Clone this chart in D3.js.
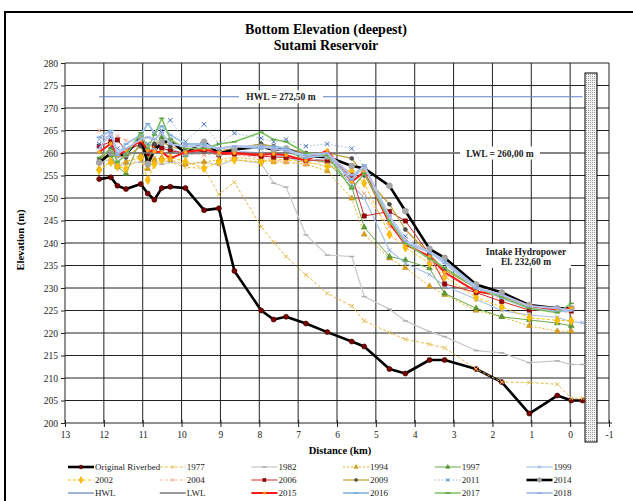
<!DOCTYPE html>
<html>
<head>
<meta charset="utf-8">
<script src="https://cdn.jsdelivr.net/npm/d3@7"></script>
<style>
  body { margin: 0; background: #fff; }
  text { font-family: "Liberation Serif", "Times New Roman", serif; }
</style>
</head>
<body>
<script>
// cross-section stations (km from dam)
var stations = [12.12, 11.82, 11.65, 11.43, 11.05, 10.87, 10.70, 10.51, 10.29, 9.90,
  9.42, 9.04, 8.64, 7.95, 7.63, 7.31, 6.80, 6.25, 5.62, 5.30,
  4.65, 4.24, 3.62, 3.23, 2.42, 1.76, 1.05, 0.33, -0.03, -0.32];

var riverbed = [254.2, 254.6, 252.7, 252.0, 253.1, 251.0, 249.6, 252.2, 252.5, 252.2,
  247.3, 247.7, 233.8, 225.0, 223.0, 223.6, 222.1, 220.2, 218.1, 217.0,
  212.0, 211.0, 214.0, 214.0, 212.0, 209.1, 202.1, 206.1, 205.0, 205.0];
var y1977 = [258.0, 259.0, 257.0, 258.0, 259.0, 258.0, 259.0, 258.4, 258.0, 256.8,
  256.6, 250.8, 253.5, 243.6, 240.2, 237.0, 232.9, 228.8, 226.0, 222.7,
  220.1, 218.6, 217.5, 216.7, 212.0, 209.1, 209.0, 208.6, 205.5, 205.5];
var y1982 = [258.0, 258.5, 257.0, 257.5, 258.0, 257.0, 258.0, 257.5, 258.0, 257.5,
  258.0, 257.3, 258.5, 257.7, 253.3, 252.4, 241.8, 237.3, 237.0, 228.1,
  225.3, 222.7, 220.3, 219.2, 216.1, 215.6, 213.4, 213.8, 213.0, 213.0];
var y1994 = [256.5, 258.0, 257.5, 258.0, 259.5, 256.5, 258.5, 259.0, 258.5, 257.5,
  258.0, 258.5, 259.0, 258.5, 258.0, 258.0, 257.5, 256.0, 249.9, 241.9,
  236.6, 234.5, 230.4, 228.5, 225.0, 223.6, 221.6, 220.4, 220.4, null];
var y1997 = [258.0, 259.5, 257.0, 255.4, 263.0, 258.5, 262.0, 263.5, 261.0, 259.5,
  261.5, 260.0, 261.0, 262.0, 261.0, 260.5, 258.5, 258.0, 252.5, 243.5,
  237.0, 236.2, 234.4, 228.8, 225.5, 223.6, 222.9, 222.2, 221.6, null];
var y1999 = [263.0, 264.0, 258.0, 260.0, 263.0, 261.5, 262.0, 261.5, 261.0, 259.5,
  260.0, 260.0, 260.5, 260.0, 259.5, 259.0, 258.0, 259.0, 253.0, 250.0,
  238.4, 235.5, 233.0, 230.5, 227.5, 225.0, 224.0, 223.5, 222.5, 222.3];
var y2002 = [256.2, 258.0, 257.0, 256.5, 259.0, 254.0, 257.5, 258.5, 259.0, 258.1,
  256.6, 258.0, 258.5, 258.0, 258.5, 258.5, 258.0, 257.0, 256.0, 253.3,
  241.9, 239.0, 235.5, 232.5, 227.9, 225.8, 223.4, 222.8, 222.7, null];
var y2004 = [265.0, 262.0, 263.8, 262.8, 262.0, 261.0, 262.0, 261.0, 260.5, 260.0,
  259.5, 259.8, 259.5, 259.0, 258.5, 258.0, 257.5, 258.0, 254.0, 251.0,
  243.6, 241.0, 236.0, 233.0, 229.5, 227.5, 225.5, 224.8, 224.5, null];
var y2006 = [261.5, 262.5, 262.9, 260.5, 262.0, 259.8, 261.5, 261.1, 260.5, 260.0,
  260.4, 259.6, 259.8, 259.3, 259.1, 259.0, 258.4, 258.4, 255.0, 246.0,
  247.0, 244.9, 237.5, 230.9, 229.0, 227.0, 225.1, 225.1, 224.9, null];
var y2009 = [258.5, 261.0, 259.5, 259.0, 261.5, 258.0, 262.0, 262.5, 261.5, 260.5,
  261.0, 260.5, 261.0, 262.0, 261.5, 261.0, 260.0, 260.0, 258.8, 255.0,
  248.6, 243.0, 237.5, 234.0, 230.0, 228.5, 226.0, 225.3, 225.3, null];
var y2011 = [262.0, 263.5, 261.0, 260.5, 263.5, 262.0, 264.5, 265.0, 267.3, 262.5,
  266.4, 262.0, 264.4, 263.3, 262.5, 263.0, 261.5, 262.0, 261.0, 257.0,
  246.0, 241.5, 237.5, 234.5, 229.8, 228.0, 226.0, 225.0, 225.5, null];
var y2014 = [257.9, 260.0, 259.5, 259.7, 263.6, 257.6, 260.5, 262.3, 262.8, 260.0,
  262.5, 259.9, 260.8, 261.4, 260.7, 261.0, 259.2, 259.2, 257.1, 256.6,
  252.7, 247.1, 238.7, 236.7, 230.8, 229.0, 226.2, 225.5, 225.5, null];
var hwl = [272.5, null, null, null, null, null, null, null, null, null,
  null, null, null, null, null, null, null, null, null, null,
  null, null, null, null, null, null, null, null, null, 272.5];
var lwl = [260.0, null, null, null, null, null, null, null, null, null,
  null, null, null, null, null, null, null, null, null, null,
  null, null, null, null, null, null, null, null, null, 260.0];
var y2015 = [260.2, 262.1, 259.5, 260.6, 262.8, 260.6, 260.3, 260.2, 258.8, 260.2,
  260.8, 260.0, 260.0, 259.6, 259.8, 259.5, 258.3, 260.6, 253.6, 255.8,
  244.4, 239.7, 237.0, 233.5, 229.2, 228.4, 226.0, 225.1, 225.5, null];
var y2016 = [263.5, 265.0, 259.5, 262.0, 264.0, 266.5, 264.5, 266.0, 264.0, 262.0,
  262.0, 261.0, 261.5, 261.0, 261.5, 261.0, 259.0, 259.5, 254.0, 257.3,
  245.1, 240.0, 238.0, 236.0, 230.3, 227.8, 225.5, 224.8, 225.0, null];
var y2017 = [259.0, 261.0, 258.0, 259.5, 264.5, 261.0, 264.0, 267.7, 263.0, 261.0,
  261.0, 262.0, 262.5, 264.6, 263.0, 262.5, 260.0, 259.5, 252.0, 255.5,
  245.0, 240.0, 236.5, 234.5, 230.0, 228.0, 225.5, 224.5, 226.6, null];
var y2018 = [261.0, 264.5, 260.0, 261.0, 263.0, 263.5, 263.0, 264.5, 262.0, 261.5,
  261.5, 261.0, 261.5, 261.5, 261.0, 260.5, 259.5, 260.0, 255.0, 257.0,
  246.0, 240.5, 238.0, 235.5, 230.0, 228.5, 226.0, 225.5, 225.0, null];

var seriesNames = ["Original Riverbed", "1977", "1982", "1994", "1997", "1999",
  "2002", "2004", "2006", "2009", "2011", "2014",
  "HWL", "LWL", "2015", "2016", "2017", "2018"];
var seriesValues = [riverbed, y1977, y1982, y1994, y1997, y1999,
  y2002, y2004, y2006, y2009, y2011, y2014,
  hwl, lwl, y2015, y2016, y2017, y2018];

var xTicks = d3.range(13, -2, -1);
var yTicks = d3.range(200, 281, 5);

// styles, same order as seriesNames
var styles = [
  { color: "#000000", width: 2.6, dash: null, marker: "circle", mfill: "#7a0000", mstroke: "#3a0000", msize: 20 },
  { color: "#e9b949", width: 1, dash: "3,2", marker: "cross", mfill: "#e9b949", mstroke: "#e9b949", msize: 12 },
  { color: "#c8c8c8", width: 1.2, dash: null, marker: "dash", mfill: "#b0b0b0", mstroke: "#b0b0b0", msize: 10 },
  { color: "#e8b020", width: 1, dash: "2,2", marker: "triangle", mfill: "#d9a21c", mstroke: "#c08a10", msize: 14 },
  { color: "#6aaa48", width: 1, dash: null, marker: "triangle", mfill: "#5a9a38", mstroke: "#4a8a28", msize: 14 },
  { color: "#a9c1e8", width: 1.2, dash: null, marker: "cross", mfill: "#8eaee0", mstroke: "#8eaee0", msize: 12 },
  { color: "#ffc000", width: 1, dash: "3,2", marker: "diamond", mfill: "#ffc000", mstroke: "#f0a800", msize: 24 },
  { color: "#f4b89a", width: 1, dash: "3,2", marker: "cross", mfill: "#f0a080", mstroke: "#f0a080", msize: 12 },
  { color: "#d02828", width: 1, dash: null, marker: "square", mfill: "#a00000", mstroke: "#700000", msize: 18 },
  { color: "#c09a30", width: 1.2, dash: null, marker: "circle", mfill: "#505050", mstroke: "#404040", msize: 12 },
  { color: "#9db7e4", width: 1, dash: "1.5,2", marker: "cross", mfill: "#4472c4", mstroke: "#4472c4", msize: 14 },
  { color: "#000000", width: 2.6, dash: null, marker: "circle", mfill: "#a6a6a6", mstroke: "#a0a0a0", msize: 28 },
  { color: "#6282c0", width: 1.2, dash: null, marker: null },
  { color: "#7f7f7f", width: 1.6, dash: null, marker: null },
  { color: "#ff1a1a", width: 2, dash: null, marker: "circle", mfill: "#ffb020", mstroke: "#ff9000", msize: 9 },
  { color: "#9dc3e6", width: 2, dash: null, marker: "dash", mfill: "#7aa8d8", mstroke: "#7aa8d8", msize: 10 },
  { color: "#7cc060", width: 1.5, dash: null, marker: "dash", mfill: "#5aa040", mstroke: "#5aa040", msize: 10 },
  { color: "#b4c4ec", width: 2, dash: null, marker: "dash", mfill: "#9aa8dc", mstroke: "#9aa8dc", msize: 10 }
];

var width = 633, height = 501;

var svg = d3.select("body").append("svg")
  .attr("width", width)
  .attr("height", height);

svg.append("rect").attr("width", width).attr("height", height).attr("fill", "#fff");

var x = d3.scaleLinear().domain([13, -1]).range([65, 609]);
var y = d3.scaleLinear().domain([200, 280]).range([423, 63]);

// outer frame (only top and left edges are inside the picture)
svg.append("path")
  .attr("d", "M5,501 L5,12 L633,12")
  .attr("fill", "none")
  .attr("stroke", "#000")
  .attr("stroke-width", 2);

// titles
svg.append("text").attr("x", 326).attr("y", 34)
  .attr("text-anchor", "middle").attr("font-weight", "bold").attr("font-size", 14)
  .text("Bottom Elevation (deepest)");
svg.append("text").attr("x", 326).attr("y", 50)
  .attr("text-anchor", "middle").attr("font-weight", "bold").attr("font-size", 14)
  .text("Sutami Reservoir");

// gridlines
var grid = svg.append("g").attr("class", "grid");
grid.selectAll("line.v")
  .data(xTicks.slice(1))
  .enter().append("line")
  .attr("class", "v")
  .attr("x1", function(d) { return x(d); })
  .attr("x2", function(d) { return x(d); })
  .attr("y1", y(280)).attr("y2", y(200))
  .attr("stroke", "#222").attr("stroke-width", 1);
grid.selectAll("line.h")
  .data(yTicks.slice(1))
  .enter().append("line")
  .attr("class", "h")
  .attr("y1", function(d) { return y(d); })
  .attr("y2", function(d) { return y(d); })
  .attr("x1", x(13)).attr("x2", x(-1))
  .attr("stroke", "#222").attr("stroke-width", 1);

// axes
var xAxis = d3.axisBottom(x).tickValues(xTicks).tickSize(4).tickPadding(4)
  .tickFormat(function(d) { return d; });
var gx = svg.append("g").attr("transform", "translate(0," + y(200) + ")").call(xAxis);
gx.select(".domain").attr("d", "M" + x(13) + ",0H" + (x(-1) + 3)).attr("stroke", "#222");
gx.selectAll(".tick line").attr("y1", -3).attr("stroke", "#222");
gx.selectAll(".tick text")
  .attr("font-family", "Liberation Serif, serif").attr("font-size", 9.5).attr("fill", "#222");

var yAxis = d3.axisLeft(y).tickValues(yTicks).tickSize(4).tickPadding(3);
var gy = svg.append("g").attr("transform", "translate(" + x(13) + ",0)").call(yAxis);
gy.select(".domain").attr("d", "M0," + y(280) + "V" + y(200)).attr("stroke", "#222");
gy.selectAll(".tick line").attr("stroke", "#222");
gy.selectAll(".tick text")
  .attr("font-family", "Liberation Serif, serif").attr("font-size", 9.5).attr("fill", "#222");

svg.append("text")
  .attr("transform", "translate(24,240) rotate(-90)")
  .attr("text-anchor", "middle").attr("font-weight", "bold").attr("font-size", 10.5)
  .text("Elevation (m)");
svg.append("text")
  .attr("x", 340).attr("y", 454)
  .attr("text-anchor", "middle").attr("font-weight", "bold").attr("font-size", 10.5)
  .text("Distance (km)");

// dam body, dotted fill
var defs = svg.append("defs");
var pat = defs.append("pattern").attr("id", "dots")
  .attr("width", 2).attr("height", 2).attr("patternUnits", "userSpaceOnUse");
pat.append("rect").attr("width", 2).attr("height", 2).attr("fill", "#f4f4f4");
pat.append("rect").attr("width", 1).attr("height", 1).attr("fill", "#9a9a9a");

svg.append("rect")
  .attr("x", 585).attr("y", 73).attr("width", 12).attr("height", 369)
  .attr("fill", "url(#dots)").attr("stroke", "#000").attr("stroke-width", 1);

// series
function symbolFor(type) {
  if (type === "circle") return d3.symbolCircle;
  if (type === "square") return d3.symbolSquare;
  if (type === "triangle") return d3.symbolTriangle;
  if (type === "diamond") return d3.symbolDiamond;
  if (type === "cross") return d3.symbolX;
  return null;
}

function drawMarker(g, st, px, py, k) {
  if (!st.marker) return;
  k = k || 1;
  if (st.marker === "dash") {
    g.append("line")
      .attr("x1", px - 2.5).attr("x2", px + 2.5).attr("y1", py).attr("y2", py)
      .attr("stroke", st.mstroke).attr("stroke-width", 1.5);
    return;
  }
  var sym = d3.symbol().type(symbolFor(st.marker)).size(st.msize * k);
  var m = g.append("path")
    .attr("d", sym())
    .attr("transform", "translate(" + px + "," + py + ")");
  if (st.marker === "cross") {
    m.attr("fill", "none").attr("stroke", st.mstroke).attr("stroke-width", 1);
  } else {
    m.attr("fill", st.mfill).attr("stroke", st.mstroke).attr("stroke-width", 0.6);
  }
}

var line = d3.line()
  .defined(function(d) { return d[1] != null; })
  .x(function(d) { return x(d[0]); })
  .y(function(d) { return y(d[1]); });

var plot = svg.append("g").attr("class", "series");

seriesValues.forEach(function(vals, i) {
  var st = styles[i];
  var pts = stations.map(function(s, k) { return [s, vals[k]]; })
    .filter(function(d) { return d[1] != null; });
  var g = plot.append("g");
  g.append("path")
    .datum(pts)
    .attr("d", line)
    .attr("fill", "none")
    .attr("stroke", st.color)
    .attr("stroke-width", st.width)
    .attr("stroke-dasharray", st.dash)
    .attr("stroke-linejoin", "round");
  if (st.marker) {
    pts.forEach(function(d) { drawMarker(g, st, x(d[0]), y(d[1])); });
  }
});

// label boxes
function labelBox(cx, cy, w, h, lines) {
  svg.append("rect")
    .attr("x", cx - w / 2).attr("y", cy - h / 2).attr("width", w).attr("height", h)
    .attr("fill", "#fff");
  lines.forEach(function(t, k) {
    svg.append("text")
      .attr("x", cx).attr("y", cy + 3.5 + (k - (lines.length - 1) / 2) * 10)
      .attr("text-anchor", "middle").attr("font-weight", "bold").attr("font-size", 9.5)
      .attr("fill", "#222")
      .text(t);
  });
}
labelBox(281, y(272.5), 84, 13, ["HWL  = 272,50 m"]);
labelBox(500, y(260), 80, 13, ["LWL  = 260,00 m"]);
labelBox(526, 256, 90, 24, ["Intake Hydropower", "El. 232,60 m"]);

// legend
var legend = svg.append("g").attr("class", "legend");
seriesNames.forEach(function(name, i) {
  var col = i % 6, row = Math.floor(i / 6);
  var lx = 68 + col * 91.7, ly = 467 + row * 13;
  var st = styles[i];
  var g = legend.append("g");
  g.append("line")
    .attr("x1", lx).attr("x2", lx + 26).attr("y1", ly).attr("y2", ly)
    .attr("stroke", st.color).attr("stroke-width", st.width)
    .attr("stroke-dasharray", st.dash);
  drawMarker(g, st, lx + 13, ly, 0.55);
  g.append("text")
    .attr("x", lx + 27).attr("y", ly + 3)
    .attr("font-size", 9).attr("fill", "#222")
    .text(name);
});
</script>
</body>
</html>
